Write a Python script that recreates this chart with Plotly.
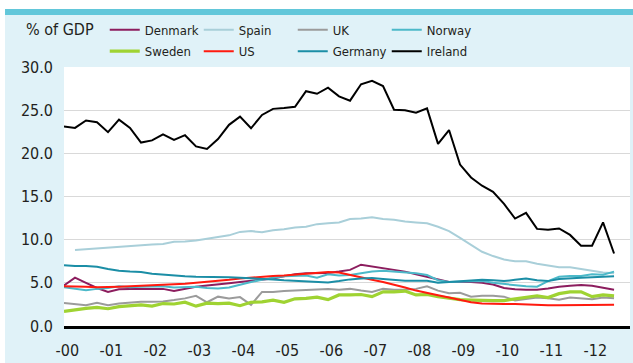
import plotly.graph_objects as go

# Quarterly observations, 2000Q1 .. 2012Q3 (51 quarters), % of GDP
quarters = list(range(51))
year_labels = ["-00", "-01", "-02", "-03", "-04", "-05", "-06",
               "-07", "-08", "-09", "-10", "-11", "-12"]

denmark = [4.7, 5.6, 5.0, 4.4, 3.95, 4.25, 4.3, 4.3, 4.3, 4.3, 4.05, 4.3, 4.55,
           4.7, 4.8, 4.95, 5.1, 5.25, 5.35, 5.5, 5.75, 6.0, 6.1, 6.1, 6.15, 6.3,
           6.5, 7.1, 6.9, 6.7, 6.5, 6.3, 6.0, 5.7, 5.35, 5.1, 5.1, 5.1, 5.0, 4.8,
           4.4, 4.25, 4.2, 4.2, 4.35, 4.55, 4.65, 4.75, 4.65, 4.45, 4.2]
spain = [None, 8.8, 8.9, 9.0, 9.1, 9.2, 9.3, 9.4, 9.45, 9.5, 9.75, 9.8, 9.9,
         10.1, 10.3, 10.5, 10.9, 11.0, 10.85, 11.1, 11.2, 11.4, 11.5, 11.8, 11.9,
         12.0, 12.4, 12.45, 12.6, 12.4, 12.3, 12.1, 12.0, 11.9, 11.5, 11.0, 10.2,
         9.4, 8.6, 8.1, 7.7, 7.5, 7.5, 7.2, 7.0, 6.8, 6.8, 6.6, 6.4, 6.2, 6.1]
uk = [2.65, 2.5, 2.4, 2.7, 2.4, 2.6, 2.7, 2.8, 2.8, 2.85, 3.0, 3.2, 3.5, 2.75,
      3.4, 3.2, 3.35, 2.45, 3.95, 3.95, 4.05, 4.1, 4.2, 4.2, 4.3, 4.2, 4.3, 4.1,
      3.95, 4.3, 4.2, 4.2, 4.3, 4.6, 4.1, 3.8, 3.85, 3.4, 3.5, 3.5, 3.4, 2.95,
      3.1, 3.3, 3.2, 3.05, 3.3, 3.2, 3.1, 3.3, 3.2]
norway = [4.5, 4.3, 4.15, 4.3, 4.4, 4.6, 4.5, 4.55, 4.6, 4.6, 4.45, 4.5, 4.55,
          4.4, 4.35, 4.45, 4.8, 5.1, 5.35, 5.6, 5.75, 5.8, 5.85, 5.6, 6.0, 5.85,
          5.9, 6.1, 6.3, 6.4, 6.3, 6.15, 6.1, 5.9, 5.3, 5.1, 5.15, 5.2, 5.2, 5.0,
          4.85, 4.7, 4.6, 4.55, 5.2, 5.7, 5.8, 5.8, 6.0, 5.95, 6.3]
sweden = [1.7, 1.9, 2.05, 2.15, 2.0, 2.25, 2.35, 2.45, 2.3, 2.6, 2.55, 2.75, 2.3,
          2.65, 2.6, 2.65, 2.35, 2.75, 2.8, 3.0, 2.75, 3.15, 3.2, 3.35, 3.05, 3.6,
          3.6, 3.65, 3.4, 3.95, 3.95, 4.05, 3.6, 3.65, 3.4, 3.2, 3.05, 3.0, 2.95,
          2.95, 2.95, 3.15, 3.35, 3.5, 3.3, 3.75, 3.95, 3.95, 3.4, 3.6, 3.5]
us = [4.6, 4.6, 4.55, 4.5, 4.5, 4.55, 4.6, 4.65, 4.7, 4.8, 4.85, 4.9, 5.0, 5.1,
      5.2, 5.35, 5.5, 5.6, 5.75, 5.8, 5.85, 5.95, 6.05, 6.15, 6.25, 6.2, 5.9,
      5.65, 5.35, 5.1, 4.8, 4.45, 4.1, 3.8, 3.55, 3.3, 3.0, 2.75, 2.6, 2.55,
      2.55, 2.55, 2.5, 2.4, 2.4, 2.4, 2.4, 2.4, 2.4, 2.45, 2.45]
germany = [7.05, 6.95, 6.95, 6.85, 6.6, 6.4, 6.3, 6.25, 6.05, 5.95, 5.8, 5.75,
           5.7, 5.7, 5.7, 5.65, 5.6, 5.55, 5.5, 5.4, 5.3, 5.25, 5.2, 5.15, 5.05,
           5.2, 5.4, 5.5, 5.55, 5.45, 5.35, 5.25, 5.25, 5.25, 5.0, 5.1, 5.2, 5.3,
           5.35, 5.3, 5.2, 5.35, 5.5, 5.3, 5.2, 5.45, 5.55, 5.6, 5.65, 5.7, 5.75]
ireland = [23.1, 22.95, 23.8, 23.6, 22.45, 23.9, 22.95, 21.25, 21.5, 22.2, 21.55,
           22.1, 20.8, 20.5, 21.65, 23.3, 24.25, 22.9, 24.45, 25.15, 25.25, 25.4,
           27.2, 26.9, 27.6, 26.6, 26.1, 28.0, 28.4, 27.8, 25.05, 25.0, 24.7,
           25.2, 21.1, 22.7, 18.7, 17.2, 16.25, 15.55, 14.15, 12.45, 13.1, 11.25,
           11.15, 11.3, 10.55, 9.3, 9.3, 12.0, 8.4]

FONT = "DejaVu Sans Condensed, Liberation Sans Narrow, Arial Narrow, sans-serif"
TEXT = "#231f20"

# (name, values, colour, width, legend row)
series = [
    ("Denmark", denmark, "#8c1d5e", 2.0, "legend"),
    ("Spain", spain, "#a9cfd9", 2.0, "legend"),
    ("UK", uk, "#9b9b9b", 2.0, "legend"),
    ("Norway", norway, "#4cb9c9", 2.0, "legend"),
    ("Sweden", sweden, "#9fd332", 3.2, "legend2"),
    ("US", us, "#ff1a0f", 2.0, "legend2"),
    ("Germany", germany, "#1b8ea6", 2.0, "legend2"),
    ("Ireland", ireland, "#000000", 2.0, "legend2"),
]

fig = go.Figure()
for name, vals, col, w, lg in series:
    fig.add_trace(go.Scatter(
        x=quarters, y=vals, name=name, mode="lines",
        line=dict(color=col, width=w), legend=lg,
    ))

# each legend row holds four entries, 89 px apart (40 px symbol + 49 px text)
legend_common = dict(
    orientation="h", xanchor="left", yanchor="middle",
    font=dict(family=FONT, size=13, color=TEXT),
    bgcolor="rgba(0,0,0,0)", entrywidth=49, entrywidthmode="pixels",
    itemclick=False, itemdoubleclick=False, tracegroupgap=0,
)

fig.update_layout(
    width=633, height=363,
    margin=dict(l=64, r=3, t=67, b=32),
    paper_bgcolor="#e0f2f8",
    plot_bgcolor="#ffffff",
    font=dict(family=FONT, size=16, color=TEXT),
    legend=dict(x=0.072, y=1.144, **legend_common),
    legend2=dict(x=0.072, y=1.061, **legend_common),
    xaxis=dict(
        range=[0, 51.45], tickmode="array",
        tickvals=[0.3 + 4 * k for k in range(len(year_labels))],
        ticktext=year_labels, showgrid=False, zeroline=False,
        showline=True, linecolor="#000000", linewidth=3,
        ticks="", ticklabelstandoff=8,
        tickfont=dict(family=FONT, size=16, color=TEXT),
    ),
    yaxis=dict(
        range=[0, 30], tickmode="array",
        tickvals=[0, 5, 10, 15, 20, 25, 30],
        ticktext=["0.0", "5.0", "10.0", "15.0", "20.0", "25.0", "30.0"],
        showgrid=True, gridcolor="#d9d9d9", gridwidth=1,
        zeroline=False, showline=False, ticks="", ticklabelstandoff=10,
        tickfont=dict(family=FONT, size=16, color=TEXT),
    ),
    shapes=[
        # white margin on the left edge and across the top
        dict(type="rect", xref="paper", yref="paper", x0=-0.2, x1=-0.1042,
             y0=-0.2, y1=1.3, fillcolor="#ffffff", line=dict(width=0)),
        dict(type="rect", xref="paper", yref="paper", x0=-0.2, x1=1.1,
             y0=1.2235, y1=1.3, fillcolor="#ffffff", line=dict(width=0)),
        # teal header stripe
        dict(type="rect", xref="paper", yref="paper", x0=-0.1042, x1=1.1,
             y0=1.2008, y1=1.2235, fillcolor="#62c7da", line=dict(width=0)),
    ],
    annotations=[
        dict(text="% of GDP", xref="paper", yref="paper", x=-0.0707, y=1.144,
             xanchor="left", yanchor="middle", showarrow=False,
             font=dict(family=FONT, size=16, color=TEXT)),
    ],
)

fig.write_html("out.html")
